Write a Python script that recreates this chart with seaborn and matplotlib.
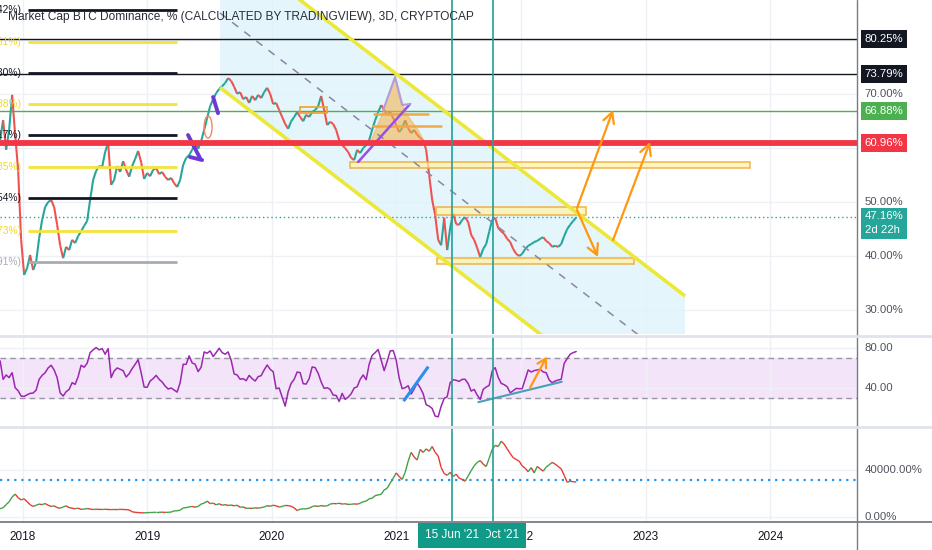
import numpy as np
import pandas as pd
import matplotlib
matplotlib.use("Agg")
import matplotlib.pyplot as plt
import matplotlib.transforms as mtransforms
from matplotlib.collections import LineCollection
from matplotlib.patches import Polygon, Rectangle, Ellipse
from matplotlib.lines import Line2D
import seaborn as sns

sns.set_style("white")
plt.rcParams["font.family"] = ["Liberation Sans", "DejaVu Sans"]

# ---------------- DATA ----------------
title = "Market Cap BTC Dominance, % (CALCULATED BY TRADINGVIEW), 3D, CRYPTOCAP"
series_start = 2017.82      # decimal year of first 3D candle shown
series_step = 0.02408       # years between samples

dominance = [61.5, 65.2, 59.7, 63.4, 69.9, 62.5, 56.0, 43.0, 36.5, 37.8,
             40.2, 37.4, 38.9, 43.3, 46.7, 49.1, 50.0, 50.4, 49.1, 45.8,
             42.0, 39.6, 41.7, 41.1, 43.0, 42.4, 43.7, 44.6, 45.6, 46.5,
             50.4, 54.1, 55.8, 56.7, 56.5, 59.3, 61.0, 53.2, 54.1, 56.7,
             55.6, 57.6, 56.0, 54.7, 56.7, 58.0, 59.5, 57.4, 54.3, 55.4,
             54.8, 56.0, 56.3, 55.2, 55.6, 54.7, 54.1, 54.5, 53.5, 52.8,
             54.1, 56.9, 58.2, 58.7, 59.7, 61.0, 59.9, 61.3, 63.4, 65.6,
             67.8, 69.1, 70.2, 71.0, 71.5, 72.1, 73.0, 72.5, 71.4, 70.1,
             70.4, 69.1, 69.5, 68.4, 69.7, 68.9, 69.9, 69.3, 70.4, 71.2,
             70.1, 68.2, 68.4, 67.1, 65.8, 64.5, 63.6, 65.0, 65.8, 66.7,
             65.8, 65.0, 66.2, 65.8, 66.7, 67.1, 67.8, 69.7, 67.1, 64.3,
             64.9, 64.5, 63.4, 61.5, 60.6, 60.0, 59.3, 58.2, 57.8, 59.7,
             59.1, 60.0, 60.6, 61.5, 63.4, 65.2, 66.7, 68.0, 67.1, 66.2,
             66.7, 65.6, 64.3, 63.0, 63.7, 65.2, 63.7, 62.8, 63.4, 62.5,
             61.9, 61.5, 59.7, 55.0, 50.4, 47.6, 43.0, 42.0, 47.1, 41.1,
             45.2, 48.0, 45.9, 45.8, 46.7, 47.2, 46.3, 43.9, 43.0, 41.5,
             39.8, 41.3, 42.2, 44.5, 46.7, 47.1, 45.2, 44.6, 44.1, 43.2,
             42.6, 41.3, 40.4, 40.0, 40.4, 41.3, 41.9, 42.2, 42.6, 42.8,
             43.2, 43.5, 42.8, 42.4, 41.7, 41.9, 41.7, 42.2, 43.7, 45.0,
             45.8, 46.5, 47.16]

rsi = [67.3, 48.7, 53.1, 50.4, 55.4, 40.2, 37.2, 31.8, 31.4, 33.1,
       34.5, 34.8, 37.8, 48.7, 52.7, 55.4, 60.2, 62.9, 58.2, 50.4,
       35.1, 31.8, 36.2, 38.5, 45.3, 43.6, 51.4, 62.9, 60.9, 64.9,
       75.7, 78.5, 80.8, 78.5, 79.8, 74.1, 79.8, 50.4, 57.1, 60.2,
       58.8, 57.5, 51.0, 54.4, 59.5, 63.9, 68.6, 55.4, 40.9, 40.6,
       47.0, 49.4, 52.7, 48.7, 46.0, 41.9, 38.9, 39.9, 37.8, 35.8,
       45.3, 63.9, 63.9, 72.4, 65.3, 63.9, 56.5, 60.9, 76.4, 75.1,
       77.4, 71.7, 75.7, 80.1, 75.7, 74.1, 76.4, 68.0, 54.1, 53.1,
       48.7, 49.4, 47.3, 52.7, 49.4, 47.0, 51.4, 52.4, 58.2, 63.2,
       58.8, 56.5, 39.2, 39.9, 30.7, 21.6, 36.2, 44.6, 48.7, 56.1,
       55.4, 44.3, 43.9, 49.4, 61.2, 60.5, 54.8, 46.0, 39.5, 40.2,
       38.5, 32.8, 32.4, 26.3, 34.5, 28.4, 30.7, 34.1, 39.9, 41.2,
       48.7, 53.1, 48.3, 63.9, 73.0, 75.7, 78.8, 68.3, 57.5, 66.9,
       77.4, 77.8, 68.3, 50.0, 39.2, 40.2, 42.2, 33.8, 38.9, 45.0,
       40.2, 34.1, 23.0, 21.6, 19.2, 11.5, 10.8, 21.6, 29.4, 31.1,
       45.3, 48.3, 47.7, 46.6, 48.7, 48.7, 44.3, 36.8, 38.5, 32.8,
       28.4, 38.5, 40.9, 42.6, 57.1, 60.5, 50.7, 44.6, 43.3, 41.2,
       35.1, 37.2, 39.5, 39.2, 39.2, 48.7, 58.2, 56.1, 57.5, 58.2,
       58.8, 56.1, 55.4, 48.0, 45.3, 47.0, 48.0, 48.7, 64.9, 69.7,
       74.1, 75.7, 76.8]

btc_k = [7.0, 8.0, 10.5, 13.0, 17.0, 19.5, 16.5, 14.5, 15.5, 13.0,
         10.5, 9.0, 10.0, 11.0, 10.5, 11.5, 10.0, 9.0, 9.5, 8.0,
         7.5, 8.5, 9.5, 8.0, 7.5, 7.0, 7.5, 6.5, 6.7, 7.2,
         6.8, 6.4, 6.6, 6.5, 6.4, 6.6, 6.4, 6.3, 6.4, 6.3,
         6.5, 6.4, 6.3, 6.0, 4.5, 4.0, 3.8, 3.6, 3.5, 3.7,
         3.8, 3.9, 4.0, 4.0, 4.1, 3.9, 4.0, 4.2, 5.2, 5.3,
         5.8, 7.7, 8.0, 8.6, 9.0, 8.3, 9.0, 11.0, 11.8, 13.5,
         11.4, 11.8, 10.4, 11.3, 10.0, 10.6, 9.8, 10.2, 9.5, 10.0,
         8.3, 8.6, 7.4, 7.5, 7.3, 7.8, 7.5, 8.0, 8.5, 9.6,
         9.2, 10.0, 9.5, 8.5, 9.0, 9.8, 9.7, 9.1, 7.8, 5.5,
         6.7, 6.9, 7.0, 7.5, 8.8, 9.5, 9.0, 9.7, 9.3, 9.5,
         11.0, 11.5, 11.3, 11.7, 11.0, 11.3, 10.7, 10.8, 11.2, 10.9,
         11.7, 13.0, 13.5, 15.5, 16.0, 18.2, 18.8, 19.3, 23.0, 24.5,
         28.8, 33.0, 37.5, 34.5, 32.0, 38.0, 47.5, 55.0, 51.0, 48.5,
         57.5, 55.0, 58.0, 56.0, 60.0, 55.0, 52.0, 42.0, 37.0, 35.5,
         38.0, 34.5, 36.5, 33.0, 32.0, 30.5, 35.0, 39.5, 43.5, 46.5,
         48.0, 45.0, 43.0, 50.0, 57.5, 61.0, 60.0, 64.5, 62.0, 58.0,
         54.0, 50.5, 49.0, 47.5, 43.5, 41.5, 38.5, 42.0, 37.5, 43.0,
         41.0, 39.0, 42.5, 44.5, 46.5, 45.0, 43.0, 41.0, 35.5, 29.5,
         30.5, 30.0, 29.8]
btc_marker_k = 31.5

year_ticks = [2018, 2019, 2020, 2021, 2022, 2023, 2024]
year_labels = ["2018", "2019", "2020", "2021", "2022", "2023", "2024"]

fib_levels = [85.64, 79.80, 73.95, 68.20, 62.45, 56.51, 50.76, 44.73, 38.89]
fib_texts = ["(2.42%)", "(1.51%)", "(1.30%)", "(0.88%)", "(0.17%)",
             "(0.35%)", "(0.54%)", "(0.73%)", "(0.91%)"]
fib_kinds = ["black", "yellow", "black", "yellow", "black",
             "yellow", "black", "yellow", "gray"]
fib_start, fib_end = 2018.04, 2019.24

level_values = [80.25, 73.79, 66.88, 60.96]
level_kinds = ["black", "black", "green", "red"]
last_value = 47.16
countdown = "2d 22h"
main_ticks = [30, 40, 50, 70]
rsi_ticks = [40, 80]
btc_ticks_k = [0, 40]
btc_tick_labels = ["0.00%", "40000.00%"]

event_dates = [2021.447, 2021.774]
event_labels = ["15 Jun '21", "10 Oct '21"]

channel_dates = [2019.585, 2023.317]
channel_upper = [98.92, 32.58]
channel_lower = [71.26, 4.82]

zone_start = [2020.628, 2021.319, 2021.327, 2020.227]
zone_end = [2023.839, 2022.523, 2022.908, 2020.444]
zone_low = [56.33, 47.61, 38.52, 66.53]
zone_high = [57.49, 49.09, 39.63, 67.64]
zone_filled = [True, True, True, False]

orange_line_dates = [(2020.821, 2021.254), (2020.813, 2021.359)]
orange_line_values = [66.35, 64.12]

triangle_dates = [2020.789, 2020.894, 2020.990, 2021.070, 2021.174, 2021.230]
triangle_values = [60.96, 66.72, 73.21, 66.72, 63.38, 60.96]
purple_dates = [2020.693, 2021.110]
purple_values = [57.44, 68.20]
lavender_dates = [2020.894, 2020.990, 2021.046, 2021.110]
lavender_values = [67.09, 73.21, 68.01, 68.20]
purple_marks = [((2019.529, 69.5), (2019.569, 66.5)),
                ((2019.328, 62.45), (2019.424, 58.18)),
                ((2019.344, 58.37), (2019.441, 57.81))]
ellipse_center = (2019.489, 63.93)
ellipse_size = (0.064, 4.08)

arrow_tails = [(2022.450, 48.90), (2022.450, 48.52), (2022.739, 42.97)]
arrow_heads = [(2022.739, 67.07), (2022.618, 39.81), (2023.036, 61.15)]

rsi_blue = [(2021.058, 26.6), (2021.256, 61.5)]
rsi_support = [(2021.658, 25.6), (2022.327, 46.2)]
rsi_arrow = [(2022.073, 40.2), (2022.207, 71.6)]

# ---------------- FIGURE ----------------
W, H = 932, 550
fig = plt.figure(figsize=(W / 100, H / 100), dpi=100)
fig.patch.set_facecolor("white")
plot_w = 857 / W
ax = fig.add_axes([0, 1 - 334 / H, plot_w, 334 / H])
ax_rsi = fig.add_axes([0, 1 - 426 / H, plot_w, 90 / H])
ax_btc = fig.add_axes([0, 1 - 521 / H, plot_w, 94 / H])

xlim = (2017.819, 2024.697)
grid_c = "#eef0f5"
for a in (ax, ax_rsi, ax_btc):
    a.set_xlim(*xlim)
    for s in a.spines.values():
        s.set_visible(False)
    a.set_xticks(year_ticks)
    a.tick_params(length=0, labelleft=False, labelbottom=False)
    a.grid(True, color=grid_c, lw=1)
    a.set_axisbelow(True)
    a.set_facecolor("none")

ax.set_ylim(25.53, 87.5)
ax.set_yticks([30, 40, 50, 60, 70, 80])
ax_rsi.set_ylim(1.5, 92.5)
ax_rsi.set_yticks(rsi_ticks)
ax_btc.set_ylim(-3.4, 76.6)
ax_btc.set_yticks(btc_ticks_k)

x = series_start + series_step * np.arange(len(dominance))

def candles(a, xs, ys, up, down, lw, z):
    ys = np.asarray(ys, float)
    pts = np.column_stack([xs, ys])
    segs = np.stack([pts[:-1], pts[1:]], axis=1)
    cols = [up if ys[i + 1] >= ys[i] else down for i in range(len(ys) - 1)]
    a.add_collection(LineCollection(segs, colors=cols, linewidths=lw, zorder=z))

# ---- main panel ----
cx = channel_dates
ax.add_patch(Polygon([(cx[0], channel_upper[0]), (cx[1], channel_upper[1]),
                      (cx[1], channel_lower[1]), (cx[0], channel_lower[0])],
                     closed=True, fc="#dcf4fa", ec="none", alpha=0.75, zorder=0.6))
yellow = "#ece83a"
ax.plot(cx, channel_upper, color=yellow, lw=2.6, zorder=4.5, solid_capstyle="butt")
ax.plot(cx, channel_lower, color=yellow, lw=2.6, zorder=4.5, solid_capstyle="butt")
ax.plot(cx, [(channel_upper[0] + channel_lower[0]) / 2, (channel_upper[1] + channel_lower[1]) / 2],
        color="#8b84a8", lw=1.1, ls=(0, (5, 5)), zorder=4)

fib_color = {"black": "#131722", "yellow": "#f2e43a", "gray": "#a9abb2"}
for lv, tx, kind in zip(fib_levels, fib_texts, fib_kinds):
    ax.plot([fib_start, fib_end], [lv, lv], color=fib_color[kind], lw=2.0, zorder=3.5,
            solid_capstyle="butt")
    ax.text(2017.990, lv, tx, ha="right", va="center", fontsize=7.4,
            color=fib_color[kind] if kind != "yellow" else "#efd92e", clip_on=True, zorder=6)

lvl_color = {"black": "#131722", "green": "#4caf50", "red": "#f23645"}
for lv, kind in zip(level_values, level_kinds):
    ax.axhline(lv, color=lvl_color[kind], lw=4.2 if kind == "red" else 1.0,
               zorder=4.8 if kind == "red" else 3.6)
ax.axhline(last_value, color="#26a69a", lw=1.0, ls=(0, (1, 2)), zorder=3.2)

for x0, x1, lo, hi, filled in zip(zone_start, zone_end, zone_low, zone_high, zone_filled):
    ax.add_patch(Rectangle((x0, lo), x1 - x0, hi - lo,
                           fc="#fff2a8" if filled else "none", alpha=0.75 if filled else 1,
                           ec="#f0a22a", lw=1.2, zorder=3.8))
for (d0, d1), v in zip(orange_line_dates, orange_line_values):
    ax.plot([d0, d1], [v, v], color="#f0a848", lw=1.8, zorder=3.9)

ax.add_patch(Polygon(list(zip(triangle_dates, triangle_values)), closed=True,
                     fc="#f5b041", ec="#f0b060", alpha=0.55, lw=1, zorder=3.7))

candles(ax, x, dominance, "#26a69a", "#ef5350", 1.5, 3)

ax.plot(purple_dates, purple_values, color="#9b4dea", lw=1.8, zorder=4.6)
ax.plot(lavender_dates, lavender_values, color="#b39ddb", lw=1.5, zorder=4.6)
for (p0, p1) in purple_marks:
    ax.plot([p0[0], p1[0]], [p0[1], p1[1]], color="#6a3ad6", lw=2.8, zorder=4.6,
            solid_capstyle="round")
ax.add_patch(Ellipse(ellipse_center, ellipse_size[0], ellipse_size[1], fill=False,
                     ec="#f08a5d", lw=1, zorder=4.6))

for t, h in zip(arrow_tails, arrow_heads):
    ax.annotate("", xy=h, xytext=t, zorder=6,
                arrowprops=dict(arrowstyle="->,head_length=0.75,head_width=0.4",
                                color="#ff9810", lw=1.6, shrinkA=0, shrinkB=0))

for d in event_dates:
    for a in (ax, ax_rsi, ax_btc):
        a.axvline(d, color="#22a09a", lw=1.2, zorder=5)

ax.text(8 / 857, 1 - 17 / 334, title, transform=ax.transAxes, fontsize=8.6,
        color="#2a2e39", va="center", ha="left", zorder=10)

# ---- RSI panel ----
ax_rsi.axhspan(30, 70, color="#f3e4fa", zorder=0.5)
for lv in (70, 30):
    ax_rsi.axhline(lv, color="#9598a1", lw=1.0, ls=(0, (4, 3)), zorder=1)
rsi_df = pd.DataFrame({"date": x, "rsi": rsi})
sns.lineplot(data=rsi_df, x="date", y="rsi", ax=ax_rsi, color="#9c27b0", lw=1.1, zorder=3)
ax_rsi.set_xlabel("")
ax_rsi.set_ylabel("")
ax_rsi.plot(*zip(*rsi_blue), color="#2a8ff0", lw=2.2, zorder=4, solid_capstyle="butt")
ax_rsi.plot(*zip(*rsi_support), color="#4a9fb8", lw=1.5, zorder=4)
ax_rsi.annotate("", xy=rsi_arrow[1], xytext=rsi_arrow[0], zorder=6,
                arrowprops=dict(arrowstyle="->,head_length=0.6,head_width=0.35",
                                color="#ff9810", lw=1.6, shrinkA=0, shrinkB=0))

# ---- BTC panel ----
candles(ax_btc, x, btc_k, "#43a047", "#e53935", 1.0, 3)
ax_btc.axhline(btc_marker_k, color="#2196f3", lw=1.6, ls=(0, (1, 2.2)), zorder=2)
ax_btc.set_xticks(year_ticks)
ax_btc.set_xticklabels(year_labels)
ax_btc.tick_params(labelbottom=True, pad=7, labelsize=8.5, labelcolor="#131722")

# ---- right scale labels ----
tick_c = "#50535e"
def right_text(a, v, s, **kw):
    tr = mtransforms.blended_transform_factory(a.transAxes, a.transData)
    a.text(1.009, v, s, transform=tr, ha="left", va="center", fontsize=8.2,
           clip_on=False, **kw)

for v in main_ticks:
    right_text(ax, v, f"{v:.2f}%", color=tick_c)
box_color = {"black": "#131722", "green": "#4caf50", "red": "#f23645"}
for lv, kind in zip(level_values, level_kinds):
    right_text(ax, lv, f"{lv:.2f}%", color="white", zorder=12,
               bbox=dict(boxstyle="square,pad=0.33", fc=box_color[kind], ec="none"))
tr = mtransforms.blended_transform_factory(ax.transAxes, ax.transData)
ax.text(1.009, last_value + 1.1, f"{last_value:.2f}%\n{countdown}", transform=tr,
        ha="left", va="top", fontsize=8.2, color="white", linespacing=1.45,
        clip_on=False, zorder=12,
        bbox=dict(boxstyle="square,pad=0.33", fc="#26a69a", ec="none"))
for v in rsi_ticks:
    right_text(ax_rsi, v, f"{v:.2f}", color=tick_c)
for v, s in zip(btc_ticks_k, btc_tick_labels):
    right_text(ax_btc, v, s, color=tick_c)

# ---- crosshair date labels ----
trx = mtransforms.blended_transform_factory(ax_btc.transData, ax_btc.transAxes)
for d, s, z in sorted(zip(event_dates, event_labels, [12, 11]), key=lambda t: t[2]):
    ax_btc.text(d, -0.15, s, transform=trx, ha="center", va="center", fontsize=8.5,
                color="white", zorder=z, clip_on=False,
                bbox=dict(boxstyle="square,pad=0.55", fc="#119a88", ec="none"))

# ---- frame lines ----
fig.add_artist(Line2D([plot_w, plot_w], [0, 1], transform=fig.transFigure,
                      color="#787b86", lw=1.0))
fig.add_artist(Line2D([0, 1], [1 - 521.5 / H, 1 - 521.5 / H], transform=fig.transFigure,
                      color="#787b86", lw=1.3))
for py in (335.5, 427):
    fig.add_artist(Line2D([0, 1], [1 - py / H, 1 - py / H], transform=fig.transFigure,
                          color="#e0e3eb", lw=2.0))

fig.savefig("out.png", dpi=100)
